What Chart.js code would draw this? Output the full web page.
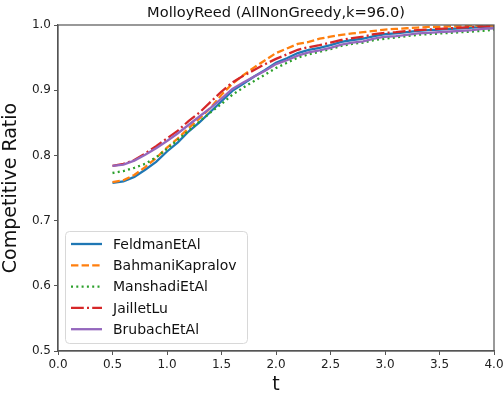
<!DOCTYPE html>
<html>
<head>
<meta charset="utf-8">
<script src="https://cdn.jsdelivr.net/npm/chart.js@4/dist/chart.umd.min.js"></script>
<style>
  html, body { margin: 0; padding: 0; background: #fff; }
  canvas { display: block; }
</style>
</head>
<body>
<canvas id="myChart" width="503" height="396"></canvas>
<script>
const tValues = [0.5, 0.6, 0.7, 0.8, 0.9, 1.0, 1.1, 1.2, 1.3, 1.4, 1.5, 1.6, 1.7, 1.8, 1.9, 2.0, 2.1, 2.2, 2.3, 2.4,
    2.5, 2.6, 2.7, 2.8, 2.9, 3.0, 3.1, 3.2, 3.3, 3.4, 3.5, 3.6, 3.7, 3.8, 3.9, 4.0];
const seriesNames = ["FeldmanEtAl", "BahmaniKapralov", "ManshadiEtAl", "JailletLu", "BrubachEtAl"];
const feldman = [0.758, 0.760, 0.767, 0.778, 0.790, 0.806, 0.820, 0.837, 0.851, 0.867, 0.883, 0.899, 0.910, 0.921, 0.931, 0.942, 0.949, 0.957, 0.962, 0.965,
    0.969, 0.974, 0.977, 0.979, 0.983, 0.986, 0.987, 0.989, 0.991, 0.992, 0.993, 0.994, 0.995, 0.996, 0.997, 0.998];
const bahmani = [0.759, 0.762, 0.770, 0.782, 0.796, 0.812, 0.826, 0.842, 0.857, 0.873, 0.893, 0.910, 0.923, 0.935, 0.946, 0.957, 0.964, 0.971, 0.974, 0.979,
    0.982, 0.985, 0.987, 0.989, 0.991, 0.993, 0.994, 0.995, 0.996, 0.997, 0.997, 0.998, 0.998, 0.999, 0.999, 0.999];
const manshadi = [0.773, 0.776, 0.781, 0.787, 0.797, 0.810, 0.824, 0.838, 0.852, 0.866, 0.879, 0.893, 0.904, 0.914, 0.924, 0.934, 0.942, 0.950, 0.955, 0.959,
    0.963, 0.968, 0.971, 0.973, 0.977, 0.979, 0.981, 0.983, 0.985, 0.986, 0.987, 0.988, 0.989, 0.990, 0.991, 0.993];
const jaillet = [0.784, 0.787, 0.793, 0.803, 0.814, 0.826, 0.838, 0.853, 0.866, 0.882, 0.898, 0.912, 0.922, 0.931, 0.940, 0.948, 0.955, 0.962, 0.966, 0.969,
    0.973, 0.977, 0.980, 0.982, 0.986, 0.988, 0.989, 0.991, 0.992, 0.993, 0.994, 0.995, 0.996, 0.997, 0.998, 0.998];
const brubach = [0.784, 0.786, 0.792, 0.801, 0.811, 0.822, 0.834, 0.847, 0.860, 0.873, 0.887, 0.902, 0.912, 0.921, 0.930, 0.940, 0.946, 0.953, 0.958, 0.961,
    0.965, 0.970, 0.973, 0.975, 0.979, 0.982, 0.983, 0.985, 0.987, 0.988, 0.989, 0.990, 0.991, 0.992, 0.994, 0.995];
const allSeries = [feldman, bahmani, manshadi, jaillet, brubach];

const lineColors = [
    "#1f77b4", //feldman
    "#ff7f0e", //bahmani
    "#2ca02c", //manshadi
    "#d62728", //jaillet
    "#9467bd"  //brubach
];
const dashes = [[], [7.4, 3.2], [2, 3.3], [12.8, 3.2, 2, 3.2], []];
const FONT = "'DejaVu Sans', sans-serif";

// frame, title and legend drawn by hand, matplotlib style
const extras = {
    id: "extras",
    afterDraw(chart) {
        const ctx = chart.ctx;
        const a = chart.chartArea;
        ctx.save();
        ctx.strokeStyle = "#555";
        ctx.lineWidth = 1.2;
        ctx.strokeRect(a.left, a.top, a.right - a.left, a.bottom - a.top);

        ctx.fillStyle = "#111";
        ctx.font = "14.6px " + FONT;
        ctx.textAlign = "center";
        ctx.textBaseline = "middle";
        ctx.fillText("MolloyReed (AllNonGreedy,k=96.0)", (a.left + a.right) / 2, 13);

        // legend box
        const bx = 65.5, by = 231.5, bw = 182, bh = 112, r = 4;
        ctx.beginPath();
        ctx.moveTo(bx + r, by);
        ctx.arcTo(bx + bw, by, bx + bw, by + bh, r);
        ctx.arcTo(bx + bw, by + bh, bx, by + bh, r);
        ctx.arcTo(bx, by + bh, bx, by, r);
        ctx.arcTo(bx, by, bx + bw, by, r);
        ctx.closePath();
        ctx.fillStyle = "rgba(255,255,255,0.8)";
        ctx.fill();
        ctx.strokeStyle = "#d8d8d8";
        ctx.lineWidth = 1;
        ctx.stroke();

        ctx.font = "14px " + FONT;
        ctx.textAlign = "left";
        seriesNames.forEach((name, i) => {
            const y = 244 + i * 21.3;
            ctx.beginPath();
            ctx.setLineDash(dashes[i]);
            ctx.strokeStyle = lineColors[i];
            ctx.lineWidth = 2.3;
            ctx.moveTo(71, y);
            ctx.lineTo(102, y);
            ctx.stroke();
            ctx.setLineDash([]);
            ctx.fillStyle = "#111";
            ctx.fillText(name, 113, y + 1);
        });
        ctx.restore();
    }
};

function makeChart() {
    return new Chart("myChart", {
        type: "line",
        data: {
            datasets: seriesNames.map((name, i) => ({
                label: name,
                data: tValues.map((t, j) => ({ x: t, y: allSeries[i][j] })),
                borderColor: lineColors[i],
                backgroundColor: lineColors[i],
                borderDash: dashes[i],
                borderWidth: 2.3,
                pointRadius: 0,
                tension: 0,
                fill: false,
                order: 5 - i
            }))
        },
        options: {
            responsive: false,
            animation: false,
            devicePixelRatio: 1,
            layout: { padding: { top: 25, right: 9, left: 0, bottom: 0 } },
            plugins: {
                legend: { display: false },
                title: { display: false },
                tooltip: { enabled: false }
            },
            scales: {
                x: {
                    type: "linear",
                    min: 0,
                    max: 4,
                    afterFit: (s) => { s.height = 45; s.paddingLeft = 0; s.paddingRight = 0; },
                    grid: { drawOnChartArea: false, drawTicks: true, tickLength: 4, color: "#555" },
                    border: { color: "#555", width: 1.2 },
                    ticks: {
                        stepSize: 0.5,
                        padding: 3,
                        color: "#222",
                        font: { family: FONT, size: 12 },
                        maxRotation: 0,
                        callback: (v) => v.toFixed(1)
                    },
                    title: {
                        display: true,
                        text: "t",
                        color: "#111",
                        font: { family: FONT, size: 19 },
                        padding: { top: 0, bottom: 0 }
                    }
                },
                y: {
                    min: 0.5,
                    max: 1.0,
                    afterFit: (s) => { s.width = 58; s.paddingTop = 0; s.paddingBottom = 0; },
                    grid: { drawOnChartArea: false, drawTicks: true, tickLength: 4, color: "#555" },
                    border: { color: "#555", width: 1.2 },
                    ticks: {
                        stepSize: 0.1,
                        padding: 3,
                        color: "#222",
                        font: { family: FONT, size: 12 },
                        callback: (v) => v.toFixed(1)
                    },
                    title: {
                        display: true,
                        text: "Competitive Ratio",
                        color: "#111",
                        font: { family: FONT, size: 19 },
                        padding: { top: 0, bottom: 4 }
                    }
                }
            }
        },
        plugins: [extras]
    });
}

let chart = makeChart();
</script>
</body>
</html>
